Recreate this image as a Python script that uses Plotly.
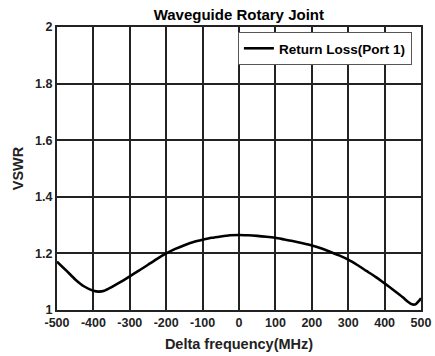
import plotly.graph_objects as go

freq_mhz = [-500, -475, -450, -425, -400, -385, -370, -350, -325, -300, -275, -250, -225, -200, -175, -150, -125, -100, -75, -50, -25, 0, 25, 50, 75, 100, 125, 150, 175, 200, 225, 250, 275, 300, 325, 350, 375, 400, 425, 450, 465, 475, 485, 495, 500]
vswr = [1.171, 1.140, 1.108, 1.083, 1.068, 1.065, 1.068, 1.081, 1.099, 1.119, 1.139, 1.160, 1.181, 1.200, 1.216, 1.229, 1.240, 1.248, 1.255, 1.260, 1.264, 1.265, 1.264, 1.262, 1.259, 1.255, 1.249, 1.243, 1.236, 1.228, 1.218, 1.206, 1.193, 1.178, 1.159, 1.138, 1.117, 1.094, 1.070, 1.045, 1.028, 1.020, 1.020, 1.033, 1.042]
x_ticks = [-500, -400, -300, -200, -100, 0, 100, 200, 300, 400, 500]
y_ticks = [1, 1.2, 1.4, 1.6, 1.8, 2]

font = "Liberation Sans, Arial, sans-serif"

fig = go.Figure()
fig.add_trace(go.Scatter(
    x=freq_mhz, y=vswr, mode="lines", name="<b>Return Loss(Port 1)</b>",
    line=dict(color="black", width=2.6, shape="spline", smoothing=0.6),
))

fig.update_layout(
    width=435, height=356,
    margin=dict(l=57, r=14, t=27, b=46),
    paper_bgcolor="white", plot_bgcolor="white",
    font=dict(family=font, color="#222", size=12),
    title=dict(text="<b>Waveguide Rotary Joint</b>", x=0.549, xanchor="center",
               y=0.958, yanchor="middle", font=dict(size=15, color="black")),
    showlegend=True,
    legend=dict(x=0.975, y=0.924, xanchor="right", yanchor="middle",
                bgcolor="white", bordercolor="#555", borderwidth=1,
                font=dict(size=13.5, color="black"),
                itemwidth=30, tracegroupgap=0),
)
fig.update_xaxes(
    range=[-500, 500], tickvals=x_ticks, ticktext=[f"<b>{v}</b>" for v in x_ticks],
    showgrid=True, gridcolor="#222", gridwidth=2, zeroline=False,
    showline=True, linecolor="#222", linewidth=2, mirror=True,
    ticks="", tickfont=dict(size=12.5, color="#222"), automargin=False,
    title=dict(text="<b>Delta frequency(MHz)</b>", font=dict(size=14.5, color="#222"), standoff=10),
)
fig.update_yaxes(
    range=[1, 2], tickvals=y_ticks, ticktext=[f"<b>{v:g}</b>" for v in y_ticks],
    showgrid=True, gridcolor="#222", gridwidth=2, zeroline=False,
    showline=True, linecolor="#222", linewidth=2, mirror=True,
    ticks="", tickfont=dict(size=12.5, color="#222"), automargin=False,
    title=dict(text="<b>VSWR</b>", font=dict(size=14.5, color="#222"), standoff=8),
)

fig.write_html("out.html", config={"displayModeBar": False},
               post_script="document.body.style.margin='0';")
